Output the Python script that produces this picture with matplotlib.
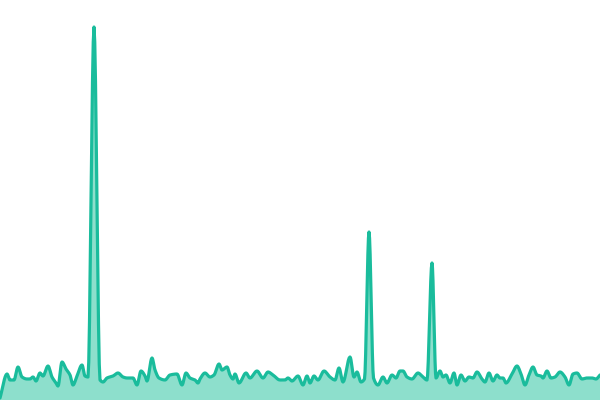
import numpy as np
import matplotlib
matplotlib.use("Agg")
import matplotlib.pyplot as plt

# точки (x - позиция, y - высота над нижним краем)
xs = [0, 7, 10, 14, 18, 22, 27, 30, 33, 36, 40, 43, 48, 52, 56, 58, 62, 66, 70, 73,
      77, 82, 85, 88, 94, 100, 103, 107, 113, 118, 123, 127, 133, 137, 141, 145, 147,
      152, 155, 159, 165, 170, 177, 182, 186, 190, 195, 198, 200, 205, 210, 214, 219,
      222, 227, 230, 233, 235, 239, 246, 250, 257, 263, 268, 273, 280, 285, 288, 292,
      298, 303, 307, 310, 314, 318, 324, 330, 335, 339, 343, 350, 354, 357, 361, 364.5,
      369, 373.5, 378, 383, 387, 392, 396, 400, 403, 407, 412, 418, 422, 427, 432, 436,
      440, 443, 446, 450, 454, 457, 461, 465, 469, 473, 477, 482, 485, 489, 493, 497,
      500, 503, 506, 512, 517, 521, 525, 529, 533, 537, 541, 543, 547, 551, 555, 560,
      565, 569, 573, 577, 582, 587, 592, 596, 600]
ys_px = [398, 374, 380, 380, 367, 377, 379, 379, 377, 381, 373, 376, 366, 377, 383, 386,
         362, 369, 375, 385, 376, 365, 376, 377, 27, 380, 382, 378, 376, 373, 377, 378,
         378, 385, 371, 376, 381, 358, 370, 378, 380, 375, 374, 385, 373, 378, 380, 383,
         379, 373, 377, 375, 364, 370, 367, 375, 379, 374, 383, 373, 378, 371, 378, 372,
         375, 380, 380, 378, 381, 376, 385, 376, 383, 376, 380, 371, 377, 380, 368, 382,
         357, 377, 372, 382, 379, 232, 378, 385, 377, 383, 375, 378, 371, 371, 377, 379,
         373, 376, 380, 263, 378, 371, 377, 375, 383, 373, 385, 375, 381, 377, 378, 372,
         379, 382, 373, 381, 375, 378, 378, 383, 374, 366, 374, 385, 375, 367, 375, 376,
         378, 371, 378, 377, 372, 377, 385, 374, 373, 379, 378, 378, 379, 375]
values = [400 - v for v in ys_px]


def smooth(x, y, per=8):
    # монотонная кубическая (Fritsch-Carlson), только для отрисовки
    x = np.asarray(x, float)
    y = np.asarray(y, float)
    h = np.diff(x)
    d = np.diff(y) / h
    m = np.zeros_like(y)
    m[0], m[-1] = d[0], d[-1]
    for i in range(1, len(y) - 1):
        if d[i - 1] * d[i] > 0:
            w1 = 2 * h[i] + h[i - 1]
            w2 = h[i] + 2 * h[i - 1]
            m[i] = (w1 + w2) / (w1 / d[i - 1] + w2 / d[i])
    xo, yo = [], []
    for i in range(len(x) - 1):
        t = np.linspace(0, 1, per, endpoint=False)
        h00 = 2 * t**3 - 3 * t**2 + 1
        h10 = t**3 - 2 * t**2 + t
        h01 = -2 * t**3 + 3 * t**2
        h11 = t**3 - t**2
        xo.append(x[i] + t * h[i])
        yo.append(h00 * y[i] + h10 * h[i] * m[i] + h01 * y[i + 1] + h11 * h[i] * m[i + 1])
    xo.append([x[-1]])
    yo.append([y[-1]])
    return np.concatenate(xo), np.concatenate(yo)


sx, sy = smooth(xs, values)

fig = plt.figure(figsize=(6, 4), dpi=100)
ax = fig.add_axes([0, 0, 1, 1])
ax.fill_between(sx, sy, 0, color='#8ddfcc', linewidth=0)
ax.plot(sx, sy, color='#1abc9c', linewidth=2.3, solid_capstyle='round')
ax.set_xlim(0, 600)
ax.set_ylim(0, 400)
ax.axis('off')

fig.savefig('out.png', dpi=100)
